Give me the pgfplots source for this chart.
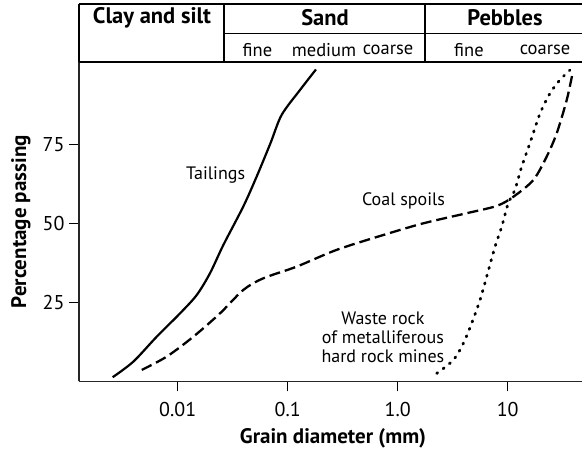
\documentclass[border=0pt]{standalone}
\usepackage{fontspec}
\setmainfont{PT Sans}
\usepackage{pgfplots}
\pgfplotsset{compat=1.18}
\pgfplotstableread{
d p
0.002565 1.3
0.003945 6.2
0.00644 14.1
0.0105 21.5
0.01489 27.3
0.01967 34.2
0.02597 43.1
0.03945 55.3
0.05224 64.8
0.06963 75.3
0.0881 84.3
0.1294 92.2
0.1808 98.7
}\tailings
\pgfplotstableread{
d p
0.00471 3.6
0.00794 7.8
0.01386 14.1
0.02424 21.5
0.03945 28.9
0.06 32.6
0.1208 36.3
0.2786 41.6
0.7396 46.3
1.71 50.0
4.24 53.2
7.94 55.5
11.25 58.4
17.1 63.7
22.6 71.1
27.9 78.5
34.4 89.0
38.4 96.6
}\coal
\pgfplotstableread{
d p
2.262 2.5
3.2 6.7
3.95 12.0
4.71 18.4
5.6 25.7
6.44 33.1
7.67 42.6
8.82 48.9
10.1 56.3
11.6 60.5
13.4 67.9
15.9 75.3
19.7 84.8
24.3 91.2
29.9 95.4
36.8 98.5
}\waste
\begin{document}
\begin{tikzpicture}[x=1pt,y=1pt]
\path[use as bounding box] (0,0) rectangle (582,448);
\begin{axis}[
 at={(79pt,66.7pt)}, anchor=south west,
 scale only axis, width=503pt, height=319.3pt,
 xmode=log, xmin=0.001267, xmax=47.37, ymin=0, ymax=101.06,
 axis x line=bottom, axis y line=left,
 axis line style={-, line width=1.4pt, black!85},
 xtick={0.01,0.1,1,10}, xticklabels={0.01,0.1,1.0,10},
 ytick={25,50,75},
 xminorticks=false, yminorticks=false,
 tick align=outside, major tick length=10pt,
 major tick style={line width=1.5pt, black},
 ticklabel style={font=\fontsize{20}{22}\selectfont},
 xticklabel style={yshift=-7pt},
 yticklabel style={xshift=-1pt},
 /pgf/number format/assume math mode=true,
 xlabel={Grain diameter (mm)}, ylabel={Percentage passing},
 label style={font=\fontsize{21}{22}\selectfont\bfseries},
 xlabel style={at={(axis description cs:0.505,-0.1785)}, anchor=center},
 ylabel style={at={(axis description cs:-0.1153,0.5)}, anchor=center},
 clip=false,
]
\addplot[black, line width=2.2pt, smooth, tension=0.5] table[x=d,y=p] {\tailings};
\addplot[black, line width=2.3pt, smooth, tension=0.5, dash pattern=on 11pt off 5pt] table[x=d,y=p] {\coal};
\addplot[black, line width=2.8pt, smooth, tension=0.5, line cap=round, dash pattern=on 1.2pt off 6.8pt] table[x=d,y=p] {\waste};
\node[font=\fontsize{18}{20}\selectfont] at (axis cs:0.0221,65.3) {Tailings};
\node[font=\fontsize{18}{20}\selectfont] at (axis cs:1.13,57.1) {Coal spoils};
\node[font=\fontsize{18}{19}\selectfont, align=center] at (axis cs:0.734,14.0) {Waste rock\\of metalliferous\\hard rock mines};
\end{axis}
\begin{scope}[line width=1.5pt, black]
\draw (79,444) -- (582,444);
\draw (224,414.7) -- (582,414.7);
\draw (79,386) -- (582,386);
\draw (79,386) -- (79,444);
\draw (224,386) -- (224,444);
\draw (425,386) -- (425,444);
\end{scope}
\begin{scope}[font=\fontsize{22.5}{24}\selectfont\bfseries]
\node at (152,430) {Clay and silt};
\node at (325,430) {Sand};
\node at (505,430) {Pebbles};
\end{scope}
\begin{scope}[font=\fontsize{18.5}{20}\selectfont]
\node at (257.5,398) {fine};
\node at (324,398) {medium};
\node at (388,398) {coarse};
\node at (469,398) {fine};
\node at (545,398) {coarse};
\end{scope}
\end{tikzpicture}
\end{document}
